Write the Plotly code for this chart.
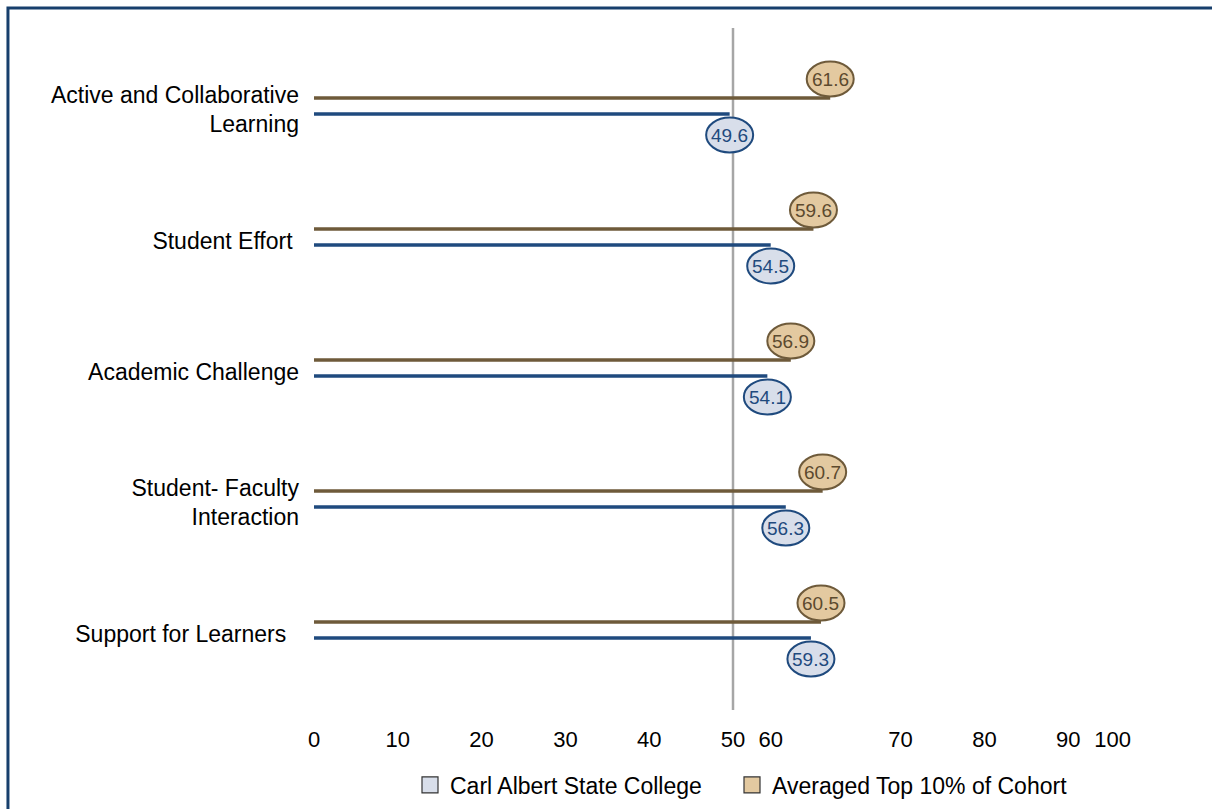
import plotly.graph_objects as go

# ---- data ----
categories = ["Active and Collaborative<br>Learning", "Student Effort\u00a0",
              "Academic Challenge", "Student- Faculty<br>Interaction",
              "Support for Learners\u00a0\u00a0"]
college_values = [49.6, 54.5, 54.1, 56.3, 59.3]
top10_values = [61.6, 59.6, 56.9, 60.7, 60.5]
series_names = ["Carl Albert State College", "Averaged Top 10% of Cohort"]
x_tick_vals = [0, 10, 20, 30, 40, 50, 54.5, 70, 80, 90, 95.3]
x_tick_text = ["0", "10", "20", "30", "40", "50", "60", "70", "80", "90", "100"]
reference_value = 50

# ---- styles ----
FONT = "Liberation Sans, Arial, sans-serif"
BROWN_LINE = "#6e5a3a"
BROWN_FILL = "#e3c9a0"
BROWN_TEXT = "#5c4a2e"
BLUE_LINE = "#1f4a7e"
BLUE_FILL = "#d8deea"
BLUE_TEXT = "#1f4a7e"

PX_PER_Y = 131.0      # pixels per category step
PX_PER_X = 8.38       # pixels per x unit
line_off = 8 / PX_PER_Y
top_mark_off = -27 / PX_PER_Y
col_mark_off = 29 / PX_PER_Y
ell_rx = 23.5 / PX_PER_X
ell_ry = 17.5 / PX_PER_Y
label_off = 3.5 / PX_PER_Y

idx = list(range(len(categories)))

def seg(vals, off):
    xs, ys = [], []
    for i, v in zip(idx, vals):
        xs += [0, v, None]
        ys += [i + off, i + off, None]
    return xs, ys

fig = go.Figure()
bx, by = seg(top10_values, -line_off)
fig.add_trace(go.Scatter(x=bx, y=by, mode="lines", line=dict(color=BROWN_LINE, width=3.5),
                         showlegend=False, hoverinfo="skip"))
cx, cy = seg(college_values, line_off)
fig.add_trace(go.Scatter(x=cx, y=cy, mode="lines", line=dict(color=BLUE_LINE, width=3.5),
                         showlegend=False, hoverinfo="skip"))

# legend entries (square symbols)
fig.add_trace(go.Scatter(x=[None], y=[None], mode="markers", name=series_names[0],
                         legend="legend",
                         marker=dict(symbol="square", size=16, color=BLUE_FILL,
                                     line=dict(color="#333333", width=1.2))))
fig.add_trace(go.Scatter(x=[None], y=[None], mode="markers", name=series_names[1],
                         legend="legend2",
                         marker=dict(symbol="square", size=16, color=BROWN_FILL,
                                     line=dict(color="#333333", width=1.2))))

shapes = []
annotations = []
for i, v in zip(idx, top10_values):
    yc = i + top_mark_off
    shapes.append(dict(type="circle", xref="x", yref="y", x0=v - ell_rx, x1=v + ell_rx,
                       y0=yc - ell_ry, y1=yc + ell_ry, fillcolor=BROWN_FILL,
                       line=dict(color=BROWN_LINE, width=2), layer="above"))
    annotations.append(dict(x=v, y=yc, xref="x", yref="y", text=f"{v:.1f}", showarrow=False,
                            font=dict(family=FONT, size=19, color=BROWN_TEXT)))
for i, v in zip(idx, college_values):
    yc = i + col_mark_off
    shapes.append(dict(type="circle", xref="x", yref="y", x0=v - ell_rx, x1=v + ell_rx,
                       y0=yc - ell_ry, y1=yc + ell_ry, fillcolor=BLUE_FILL,
                       line=dict(color=BLUE_LINE, width=2), layer="above"))
    annotations.append(dict(x=v, y=yc, xref="x", yref="y", text=f"{v:.1f}", showarrow=False,
                            font=dict(family=FONT, size=19, color=BLUE_TEXT)))

# reference vertical line
shapes.append(dict(type="line", xref="x", yref="paper", x0=reference_value, x1=reference_value,
                   y0=0, y1=1, line=dict(color="#a6a6a6", width=2.5), layer="below"))
# outer frame
shapes.append(dict(type="rect", xref="paper", yref="paper", x0=-0.3652, x1=1.08,
                   y0=-0.17, y1=1.0293, line=dict(color="#173f6c", width=3),
                   fillcolor="rgba(0,0,0,0)", layer="below"))

legend_common = dict(orientation="h", xanchor="left", yref="container",
                     y=(809 - 785) / 809, yanchor="middle",
                     font=dict(family=FONT, size=23, color="#000000"),
                     bgcolor="rgba(0,0,0,0)")

fig.update_layout(
    width=1212, height=809,
    margin=dict(l=314, r=60, t=28, b=99, autoexpand=False),
    paper_bgcolor="white", plot_bgcolor="white",
    font=dict(family=FONT, size=22, color="#000000"),
    shapes=shapes, annotations=annotations,
    showlegend=True,
    legend=dict(x=(410 - 314) / 838, **legend_common),
    legend2=dict(x=(732 - 314) / 838, **legend_common),
    xaxis=dict(range=[0, 100], tickvals=x_tick_vals, ticktext=x_tick_text,
               showgrid=False, zeroline=False, showline=False, ticks="",
               ticklabelstandoff=14, tickfont=dict(family=FONT, size=22, color="#000000"),
               automargin=False, fixedrange=True),
    yaxis=dict(range=[(710 - 106) / PX_PER_Y, (28 - 106) / PX_PER_Y],
               tickvals=[i + label_off for i in idx], ticktext=categories,
               showgrid=False, zeroline=False, showline=False, ticks="",
               ticklabelstandoff=14, tickfont=dict(family=FONT, size=23, color="#000000"),
               automargin=False, fixedrange=True),
)

fig.write_html("out.html")
